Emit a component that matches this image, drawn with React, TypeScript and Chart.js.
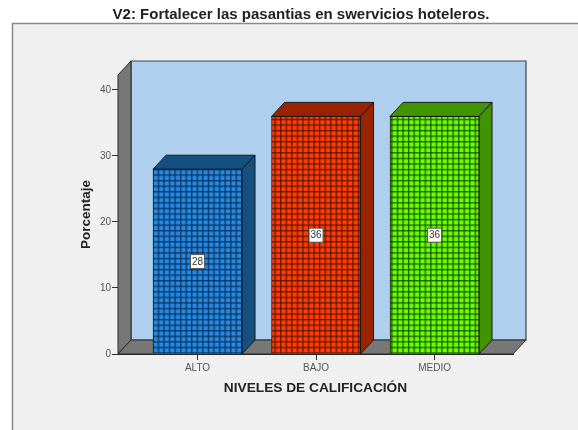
import React, { useEffect, useRef } from "react";
import { Chart, registerables } from "chart.js";

Chart.register(...registerables);

const categories = ["ALTO", "BAJO", "MEDIO"];
const percentages = [28, 36, 36];
const yTickValues = [0, 10, 20, 30, 40];
const faceColors = ["#2389e4", "#ff3d00", "#68ff00"];
const lineColors = ["#0c2f55", "#5a1500", "#1d5200"];
const sideColors = ["#14507f", "#992200", "#3f9400"];
const titleText = "V2: Fortalecer las pasantias en swervicios hoteleros.";
const yTitle = "Porcentaje";
const xTitle = "NIVELES DE CALIFICACIÓN";

const DX = 13;
const DY = -14;
const FONT = "'Liberation Sans', Arial, sans-serif";

function gridPattern(ctx: CanvasRenderingContext2D, face: string, line: string) {
  const size = 6;
  const tile = document.createElement("canvas");
  tile.width = size;
  tile.height = size;
  const t = tile.getContext("2d")!;
  t.fillStyle = face;
  t.fillRect(0, 0, size, size);
  t.fillStyle = line;
  t.globalAlpha = 0.88;
  t.fillRect(0, 0, 1, size);
  t.fillRect(0, 0, size, 1);
  t.globalAlpha = 0.42;
  t.fillRect(1, 0, 1, size);
  t.fillRect(0, 1, size, 1);
  const p = ctx.createPattern(tile, "repeat")!;
  p.setTransform(new DOMMatrix().translate(2, 2).scale(5.56 / size));
  return p;
}

function poly(ctx: CanvasRenderingContext2D, pts: number[][], fill: string, stroke = "#222", lw = 1) {
  ctx.beginPath();
  pts.forEach(([x, y], i) => (i ? ctx.lineTo(x, y) : ctx.moveTo(x, y)));
  ctx.closePath();
  ctx.fillStyle = fill;
  ctx.fill();
  ctx.lineWidth = lw;
  ctx.strokeStyle = stroke;
  ctx.stroke();
}

const scenePlugin = {
  id: "scene",
  beforeDraw(chart: any) {
    const ctx = chart.ctx as CanvasRenderingContext2D;
    ctx.save();
    ctx.fillStyle = "#ffffff";
    ctx.fillRect(0, 0, chart.width, chart.height);
    ctx.fillStyle = "#f0f0f0";
    ctx.fillRect(12, 23, chart.width - 12, chart.height - 23);
    ctx.strokeStyle = "#8a8a8a";
    ctx.lineWidth = 1.5;
    ctx.beginPath();
    ctx.moveTo(12.5, chart.height);
    ctx.lineTo(12.5, 23.5);
    ctx.lineTo(chart.width, 23.5);
    ctx.stroke();
    ctx.restore();
    const tb = chart.titleBlock;
    tb.left = 72;
    tb.right = 530;
  },
  beforeDatasetsDraw(chart: any) {
    const ctx = chart.ctx as CanvasRenderingContext2D;
    const { left, right, top, bottom } = chart.chartArea;
    ctx.save();
    poly(ctx, [[left + DX, top + DY], [right + DX, top + DY], [right + DX, bottom + DY], [left + DX, bottom + DY]], "#aed0ee", "#3a4650", 1.2);
    poly(ctx, [[left, top], [left + DX, top + DY], [left + DX, bottom + DY], [left, bottom]], "#777777", "#2a2a2a", 1);
    poly(ctx, [[left, bottom], [left + DX, bottom + DY], [right + DX, bottom + DY], [right, bottom]], "#777777", "#2a2a2a", 1);
    chart.getDatasetMeta(0).data.forEach((bar: any, i: number) => {
      const half = bar.width / 2;
      const l = bar.x - half;
      const r = bar.x + half;
      poly(ctx, [[l, bar.y], [l + DX, bar.y + DY], [r + DX, bar.y + DY], [r, bar.y]], sideColors[i], "#1a1a1a", 1);
      poly(ctx, [[r, bar.y], [r + DX, bar.y + DY], [r + DX, bottom + DY], [r, bottom]], sideColors[i], "#1a1a1a", 1);
    });
    ctx.restore();
  },
  afterDatasetsDraw(chart: any) {
    const ctx = chart.ctx as CanvasRenderingContext2D;
    const { bottom } = chart.chartArea;
    ctx.save();
    chart.getDatasetMeta(0).data.forEach((bar: any, i: number) => {
      const cy = (bar.y + bottom) / 2;
      ctx.fillStyle = "#ffffff";
      ctx.fillRect(bar.x - 7, cy - 7, 14, 14);
      ctx.strokeStyle = "#555";
      ctx.lineWidth = 1;
      ctx.strokeRect(bar.x - 7, cy - 7, 14, 14);
      ctx.fillStyle = "#333";
      ctx.font = `10px ${FONT}`;
      ctx.textAlign = "center";
      ctx.textBaseline = "middle";
      ctx.fillText(String(percentages[i]), bar.x, cy + 0.5);
    });
    ctx.restore();
  },
};

export default function App() {
  const ref = useRef<HTMLCanvasElement>(null);
  useEffect(() => {
    document.body.style.margin = "0";
    document.body.style.overflow = "hidden";
    const canvas = ref.current!;
    const ctx = canvas.getContext("2d")!;
    const chart = new Chart(canvas, {
      type: "bar",
      data: {
        datasets: [
          {
            label: yTitle,
            data: percentages.map((v, i) => ({ x: i, y: v })),
            backgroundColor: faceColors.map((c, i) => gridPattern(ctx, c, lineColors[i])),
            borderColor: "#1a1a1a",
            borderWidth: 1,
            barThickness: 89,
          },
        ],
      },
      options: {
        responsive: false,
        animation: false,
        layout: { padding: { left: 78, right: 65, top: 0, bottom: 34 } },
        plugins: {
          legend: { display: false },
          tooltip: { enabled: false },
          title: {
            display: true,
            text: titleText,
            color: "#222",
            font: { family: FONT, size: 15, weight: "bold", lineHeight: 1.2 },
            padding: { top: 6, bottom: 51 },
          },
        },
        scales: {
          x: {
            type: "linear",
            offset: false,
            min: -0.671,
            max: 2.662,
            afterBuildTicks: (s: any) => {
              s.ticks = categories.map((_, i) => ({ value: i }));
            },
            afterFit: (s: any) => {
              s.height = 42;
            },
            grid: { display: true, offset: false, drawOnChartArea: false, drawTicks: true, tickLength: 6, color: "#333" },
            border: { display: true, color: "#222" },
            ticks: {
              color: "#555",
              font: { family: FONT, size: 10 },
              padding: 2,
              maxRotation: 0,
              callback: (v: any) => categories[v],
            },
            title: {
              display: true,
              text: xTitle,
              color: "#222",
              font: { family: FONT, size: 13.7, weight: "bold" },
              padding: { top: 8, bottom: 0 },
            },
          },
          y: {
            min: 0,
            max: 42.27,
            afterBuildTicks: (s: any) => {
              s.ticks = yTickValues.map((value) => ({ value }));
            },
            afterFit: (s: any) => {
              s.width = 40;
            },
            grid: { display: true, drawOnChartArea: false, drawTicks: true, tickLength: 6, color: "#333" },
            border: { display: true, color: "#222" },
            ticks: {
              color: "#555",
              font: { family: FONT, size: 10 },
              padding: 1,
            },
            title: {
              display: true,
              text: yTitle,
              color: "#222",
              font: { family: FONT, size: 13.5, weight: "bold" },
              padding: { top: 0, bottom: 4 },
            },
          },
        },
      } as any,
      plugins: [scenePlugin],
    });
    return () => chart.destroy();
  }, []);
  return (
    <canvas
      ref={ref}
      width={578}
      height={430}
      style={{ display: "block", width: 578, height: 430, filter: "blur(0.4px)" }}
    />
  );
}
